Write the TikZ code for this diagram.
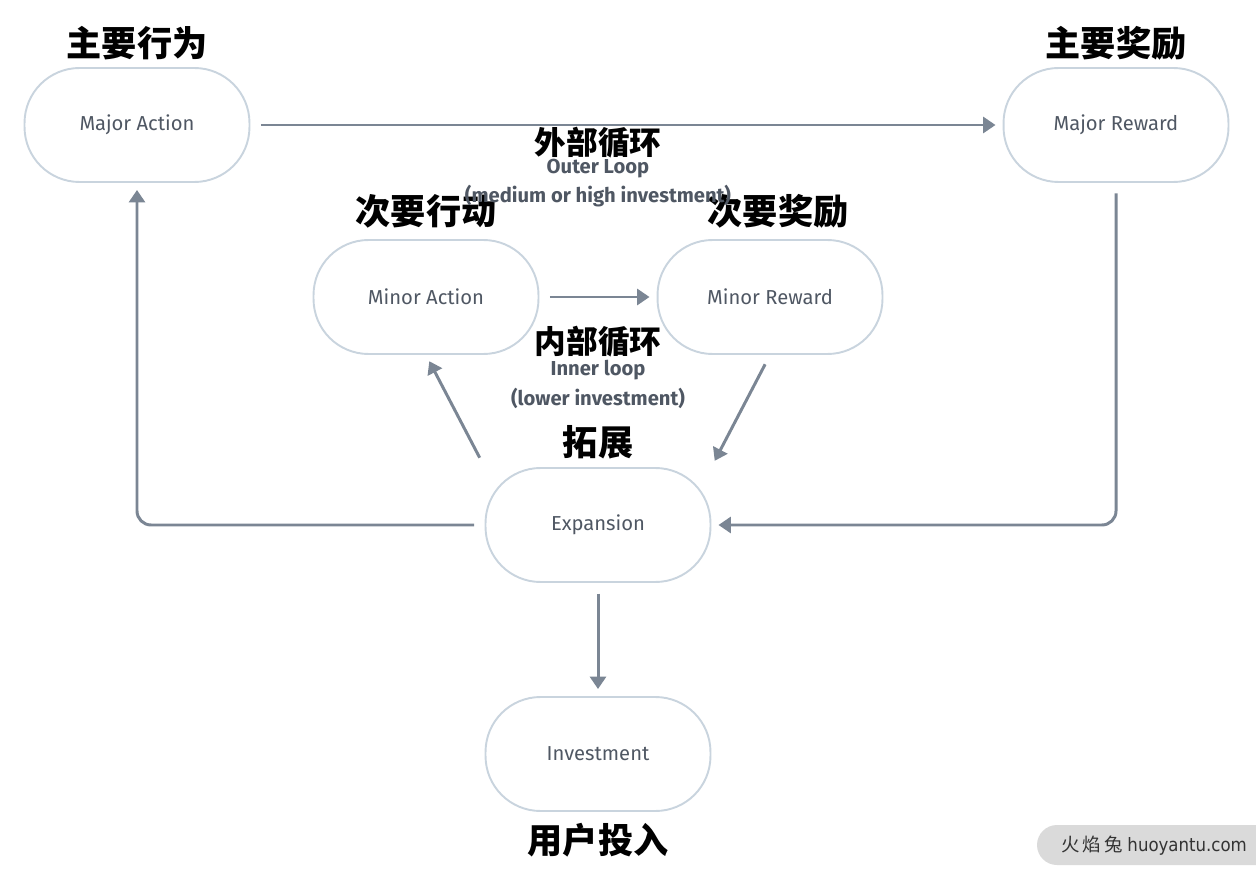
\documentclass[tikz,border=0pt]{standalone}
\usepackage{fontspec}
\usetikzlibrary{arrows.meta,positioning}
\setmainfont{Fira Sans}
\newfontfamily\cjk{Noto Sans CJK SC}
\newfontfamily\narrow{DejaVu Sans Condensed}
\definecolor{linegray}{HTML}{7B8694}
\definecolor{pillborder}{HTML}{C9D4DE}
\definecolor{textgray}{HTML}{4F5763}
\definecolor{markgray}{HTML}{DADADA}

\begin{document}
\begin{tikzpicture}[x=0.02cm,y=-0.02cm,
	pill/.style={draw=pillborder, line width=1.1pt, rounded corners=1.1cm,
		minimum width=4.5cm, minimum height=2.28cm, text=textgray,
		font=\fontsize{11.5}{13}\selectfont},
	tag/.style={font=\cjk\bfseries\fontsize{20}{22}\selectfont, inner sep=0pt},
	looptag/.style={font=\cjk\bfseries\fontsize{18}{20}\selectfont, inner sep=0pt},
	note/.style={font=\bfseries\fontsize{11.5}{13}\selectfont, text=textgray, inner sep=0pt},
	flow/.style={draw=linegray, line width=1.7pt, shorten <=6pt, shorten >=4pt,
		-{Triangle[length=7pt,width=9pt]}}
	]
	\useasboundingbox (0,0) rectangle (1256,881);

	% stadium nodes
	\node[pill] (majact) at (137,125) {Major Action};
	\node[pill] (majrew) at (1116,125) {Major Reward};
	\node[pill] (minact) at (426,297) {Minor Action};
	\node[pill] (minrew) at (770,297) {Minor Reward};
	\node[pill] (expan) at (598,525) {Expansion};
	\node[pill] (invest) at (598,754) {Investment};

	% headings
	\node[tag, above=0.13cm of majact] (majactzh) {主要行为};
	\node[tag, above=0.13cm of majrew] (majrewzh) {主要奖励};
	\node[tag, above=0.2cm of minact] (minactzh) {次要行动};
	\node[tag, above=0.2cm of minrew, xshift=8*0.02cm] (minrewzh) {次要奖励};
	\node[tag, above=0.15cm of expan] (expanzh) {拓展};
	\node[tag, below=0.22cm of invest] (investzh) {用户投入};

	% loop captions
	\node[looptag] (outerzh) at (598,143) {外部循环};
	\node[note] (outeren) at (598,169) {Outer Loop};
	\node[note] (outersub) at (598,196) {(medium or high investment)};
	\node[looptag] (innerzh) at (598,342) {内部循环};
	\node[note] (inneren) at (598,370) {Inner loop};
	\node[note] (innersub) at (598,398) {(lower investment)};

	% connectors
	\draw[flow] (majact) -- (majrew);
	\draw[flow, rounded corners=8pt] (majrew.south) |- (expan.east);
	\draw[flow, rounded corners=8pt] (expan.west) -| (majact.south);
	\draw[flow] (minact) -- (minrew);
	\draw[flow] (minrew.south) -- (expan.north east);
	\draw[flow] (expan.north west) -- (minact.south);
	\draw[flow] (expan) -- (invest);

	% watermark
	\fill[markgray, rounded corners=20*0.02cm] (1037,825) rectangle (1300,865);
	\node[font=\fontsize{10.5}{12}\selectfont, text=black!80] (mark) at (1154,846)
		{{\cjk 火\,焰\,兔} {\narrow huoyantu.com}};
\end{tikzpicture}
\end{document}
